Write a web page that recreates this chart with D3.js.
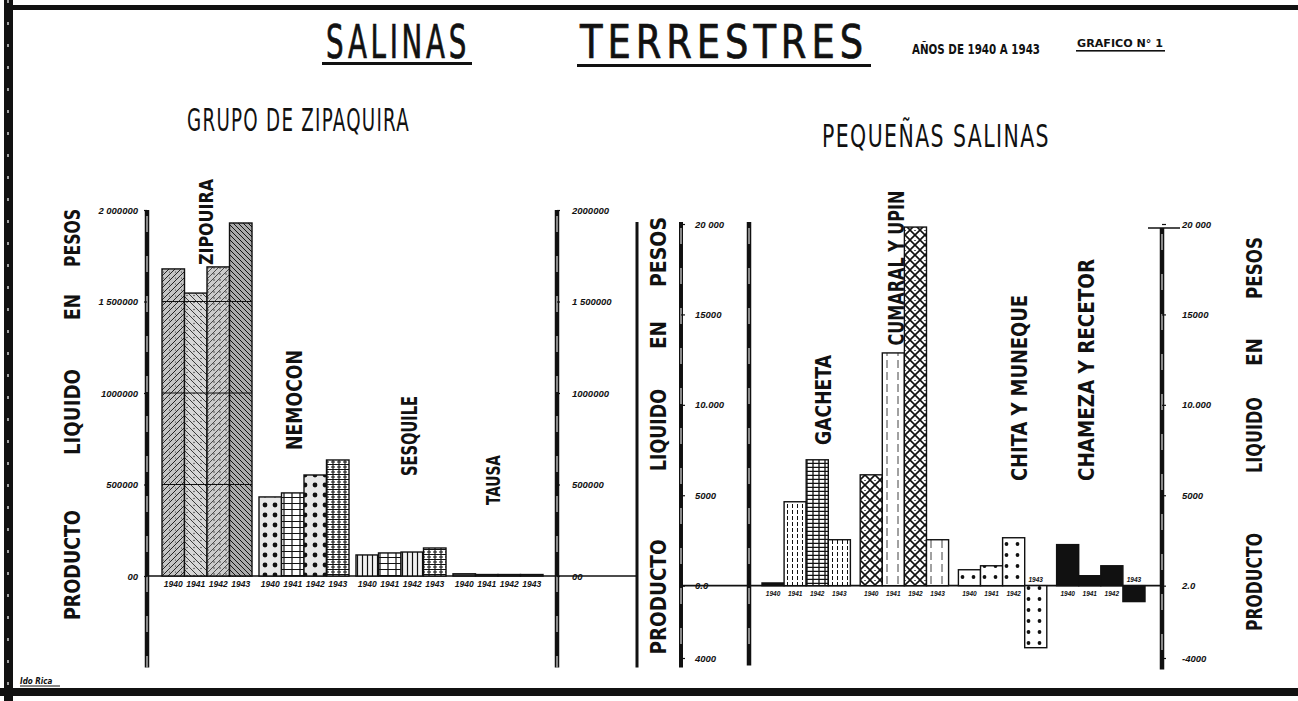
<!DOCTYPE html>
<html>
<head>
<meta charset="utf-8">
<script src="https://d3js.org/d3.v7.min.js"></script>
<style>
body { margin: 0; background: #fff; }
text { font-family: "DejaVu Sans Condensed", "DejaVu Sans", sans-serif; fill: #111; }
.tk text { font-family: "Liberation Sans", sans-serif; font-style: italic; font-weight: bold; font-size: 9.5px; }
.yr { font-family: "Liberation Sans", sans-serif; font-style: italic; font-weight: bold; }
.vlab { font-weight: bold; }
</style>
</head>
<body>
<div id="chart"></div>
<script>
// values (pesos)
const years = ["1940", "1941", "1942", "1943"];

const bigGroups = ["ZIPAQUIRA", "NEMOCON", "SESQUILE", "TAUSA"];
const zipaquira = [1678000, 1546000, 1689000, 1929000];
const nemocon   = [432000, 454000, 552000, 634000];
const sesquile  = [115000, 126000, 131000, 153000];
const tausa     = [12000, 8000, 8000, 8000];
const bigTicks = [0, 500000, 1000000, 1500000, 2000000];
const bigTickLabelsL = ["00", "500000", "1000000", "1 500000", "2 000000"];
const bigTickLabelsR = ["00", "500000", "1000000", "1 500000", "2000000"];

const smallGroups = ["GACHETA", "CUMARAL", "CHITA", "CHAMEZA"];
const gacheta = [150, 4640, 6960, 2540];
const cumaral = [6130, 12870, 19830, 2540];
const chita   = [880, 1100, 2650, -3430];
const chameza = [2270, 550, 1100, -880];
const smallTicks = [-4000, 0, 5000, 10000, 15000, 20000];
const smallTickLabelsL = ["4000", "0.0", "5000", "10.000", "15000", "20 000"];
const smallTickLabelsR = ["-4000", "2.0", "5000", "10.000", "15000", "20 000"];

const W = 1298, H = 701;

const svg = d3.select("#chart").append("svg")
  .attr("width", W).attr("height", H);

const defs = svg.append("defs");

function pat(id, w, h, bg, draw) {
  const p = defs.append("pattern").attr("id", id)
    .attr("patternUnits", "userSpaceOnUse").attr("width", w).attr("height", h);
  p.append("rect").attr("width", w).attr("height", h).attr("fill", bg);
  draw(p);
}
function ln(p, d, sw, dash) {
  p.append("path").attr("d", d).attr("stroke", "#111").attr("stroke-width", sw)
    .attr("fill", "none").attr("stroke-dasharray", dash || null);
}

// textures
pat("zipA", 6, 6, "#c4c4c4", p => { ln(p, "M-1,7 L7,-1 M-1,1 L1,-1 M5,7 L7,5", 0.9); p.append("circle").attr("cx", 1.5).attr("cy", 2).attr("r", 0.6).attr("fill", "#333"); });
pat("zipB", 7, 7, "#d6d6d6", p => { ln(p, "M-1,-1 L8,8", 0.8); p.append("circle").attr("cx", 5).attr("cy", 1.5).attr("r", 0.7).attr("fill", "#333"); });
pat("zipC", 6, 6, "#cbcbcb", p => { ln(p, "M-1,7 L7,-1", 0.7); p.append("circle").attr("cx", 4).attr("cy", 4).attr("r", 0.7).attr("fill", "#222"); });
pat("zipD", 5, 5, "#aaaaaa", p => { ln(p, "M-1,-1 L6,6 M4,-1 L6,1 M-1,4 L1,6", 1); });
pat("dots", 10, 10, "#e8e8e8", p => { p.append("circle").attr("cx", 5).attr("cy", 5).attr("r", 2.4).attr("fill", "#111"); });
pat("brick", 8, 6, "#fff", p => { ln(p, "M0,5.5 H8 M4,0 V5.5", 1.2); });
pat("brick2", 6, 5, "#fff", p => { ln(p, "M0,4.5 H6 M3,0 V4.5 M1,2 H5", 1.1); });
pat("vline", 5, 6, "#f2f2f2", p => { ln(p, "M2.5,0 V6", 1.2); });
pat("tausa", 4, 4, "#555", p => {});
pat("vdash", 5, 6, "#fff", p => { ln(p, "M2.5,0 V4", 1); });
pat("hgrid", 6, 4, "#fff", p => { ln(p, "M0,3.5 H6 M3,0 V4", 1.3); });
pat("cross", 10, 10, "#fff", p => { ln(p, "M0,0 L10,10 M10,0 L0,10", 1.6); p.append("circle").attr("cx", 5).attr("cy", 0).attr("r", 0.9).attr("fill", "#111"); });
pat("plain", 11, 12, "#fff", p => { ln(p, "M7,0 V8", 0.8); });
pat("bigdots", 11, 11, "#fff", p => { p.append("circle").attr("cx", 5.5).attr("cy", 5).attr("r", 1.9).attr("fill", "#111"); });
pat("solid", 4, 4, "#111", p => {});

const fills = {
  ZIPAQUIRA: ["zipA", "zipB", "zipC", "zipD"],
  NEMOCON: ["dots", "brick", "dots", "brick2"],
  SESQUILE: ["vline", "brick", "vline", "brick2"],
  TAUSA: ["tausa", "tausa", "tausa", "tausa"],
  GACHETA: ["solid", "vdash", "hgrid", "vdash"],
  CUMARAL: ["cross", "plain", "cross", "plain"],
  CHITA: ["bigdots", "bigdots", "bigdots", "bigdots"],
  CHAMEZA: ["solid", "solid", "solid", "solid"]
};

// scales
const yBig = d3.scaleLinear().domain([0, 2000000]).range([576, 210]);
const ySmall = d3.scaleLinear().domain([-4000, 20000]).range([658, 224]);

const xBig = d3.scaleBand().domain(bigGroups).range([162, 543]).paddingInner(0.072).paddingOuter(0);
const xBigYear = d3.scaleBand().domain(years).range([0, xBig.bandwidth()]);
const xSmall = d3.scaleBand().domain(smallGroups).range([762, 1145]).paddingInner(0.1).paddingOuter(0);
const xSmallYear = d3.scaleBand().domain(years).range([0, xSmall.bandwidth()]);

const bigData = [];
[zipaquira, nemocon, sesquile, tausa].forEach((arr, gi) => {
  arr.forEach((v, i) => bigData.push({ g: bigGroups[gi], year: years[i], value: v, i: i }));
});
const smallData = [];
[gacheta, cumaral, chita, chameza].forEach((arr, gi) => {
  arr.forEach((v, i) => smallData.push({ g: smallGroups[gi], year: years[i], value: v, i: i }));
});

// frame
svg.append("rect").attr("x", 4).attr("y", 0).attr("width", 9).attr("height", H).attr("fill", "#111");
svg.append("rect").attr("x", 12).attr("y", 5).attr("width", W - 12).attr("height", 5).attr("fill", "#111");
svg.append("rect").attr("x", 0).attr("y", 688).attr("width", W).attr("height", 8).attr("fill", "#111");
svg.append("line").attr("x1", 8).attr("x2", 8).attr("y1", 0).attr("y2", H)
  .attr("stroke", "#fff").attr("stroke-width", 1.2).attr("stroke-dasharray", "3,19");

// titles
function ttl(txt, x, y, size, len, weight, ls) {
  return svg.append("text").attr("x", x).attr("y", y)
    .attr("font-size", size).attr("font-weight", weight || "normal")
    .attr("letter-spacing", ls || 0)
    .attr("textLength", len).attr("lengthAdjust", "spacingAndGlyphs").text(txt);
}
// tall narrow hand lettering: smaller font stretched vertically
function tallTitle(txt, x, y, len) {
  svg.append("text")
    .attr("transform", "translate(" + x + "," + y + ") scale(1,1.38)")
    .attr("font-size", 33).attr("letter-spacing", 4)
    .attr("stroke", "#111").attr("stroke-width", 0.5)
    .attr("textLength", len).attr("lengthAdjust", "spacingAndGlyphs").text(txt);
}
tallTitle("SALINAS", 326, 58, 144);
tallTitle("TERRESTRES", 580, 58, 288);
svg.append("rect").attr("x", 322).attr("y", 62).attr("width", 150).attr("height", 3).attr("fill", "#111");
svg.append("rect").attr("x", 577).attr("y", 64).attr("width", 294).attr("height", 3).attr("fill", "#111");
ttl("AÑOS DE 1940 A 1943", 912, 54, 14, 128, "bold");
ttl("GRAFICO N° 1", 1077, 47, 11, 86, "bold");
svg.append("rect").attr("x", 1076).attr("y", 50).attr("width", 89).attr("height", 1.6).attr("fill", "#111");
ttl("GRUPO  DE  ZIPAQUIRA", 187, 131, 32, 223, "normal", 2);
ttl("PEQUEÑAS  SALINAS", 822, 147, 32, 228, "normal", 2);

// vertical "PRODUCTO LIQUIDO EN PESOS"
function vword(txt, x, y, len, size) {
  svg.append("text").attr("class", "vlab")
    .attr("transform", "translate(" + x + "," + y + ") rotate(-90)")
    .attr("text-anchor", "middle").attr("dy", "0.36em")
    .attr("font-size", size || 22)
    .attr("textLength", len).attr("lengthAdjust", "spacingAndGlyphs")
    .text(txt);
}
[[72, [565, 110], [412, 86], [307, 26], [238, 58]],
 [658, [597, 115], [430, 82], [335, 28], [252, 70]],
 [1254, [582, 98], [435, 76], [352, 28], [268, 62]]].forEach(c => {
  vword("PRODUCTO", c[0], c[1][0], c[1][1]);
  vword("LIQUIDO", c[0], c[2][0], c[2][1]);
  vword("EN", c[0], c[3][0], c[3][1]);
  vword("PESOS", c[0], c[4][0], c[4][1]);
});

// thick scanned axis lines
function vaxis(x, y1, y2, w) {
  svg.append("line").attr("x1", x).attr("x2", x).attr("y1", y1).attr("y2", y2)
    .attr("stroke", "#111").attr("stroke-width", w);
  if (w > 3) {
    svg.append("line").attr("x1", x).attr("x2", x).attr("y1", y1 + 6).attr("y2", y2)
      .attr("stroke", "#fff").attr("stroke-width", 1).attr("stroke-dasharray", "16,24");
  }
}
vaxis(147, yBig(2000000), yBig(-500000), 4.5);
vaxis(557, yBig(2000000), yBig(-500000), 4.5);
vaxis(637, ySmall(20000) - 2, yBig(-500000), 3);
vaxis(681, ySmall(20000) - 2, yBig(-500000), 4);
vaxis(749, ySmall(20000) - 2, yBig(-500000) - 2, 4.5);
vaxis(1162, ySmall(20000) + 4, yBig(-500000) + 2, 4.5);

// baselines
svg.append("line").attr("x1", 147).attr("x2", 637).attr("y1", yBig(0)).attr("y2", yBig(0))
  .attr("stroke", "#111").attr("stroke-width", 1.6);
svg.append("line").attr("x1", 681).attr("x2", 1162).attr("y1", ySmall(0)).attr("y2", ySmall(0))
  .attr("stroke", "#111").attr("stroke-width", 1.6);

// axes (labels only, lines drawn above)
function axis(gen, x) {
  const g = svg.append("g").attr("class", "tk").attr("transform", "translate(" + x + ",0)").call(gen);
  g.select(".domain").remove();
  g.selectAll("line").attr("stroke", "#111").attr("stroke-width", 1.2);
  return g;
}
axis(d3.axisLeft(yBig).tickValues(bigTicks).tickFormat((d, i) => bigTickLabelsL[i]).tickSize(3).tickPadding(6), 147);
axis(d3.axisRight(yBig).tickValues(bigTicks).tickFormat((d, i) => bigTickLabelsR[i]).tickSize(3).tickPadding(12), 557);
axis(d3.axisRight(ySmall).tickValues(smallTicks).tickFormat((d, i) => smallTickLabelsL[i]).tickSize(4).tickPadding(10), 681);
axis(d3.axisRight(ySmall).tickValues(smallTicks).tickFormat((d, i) => smallTickLabelsR[i]).tickSize(4).tickPadding(16), 1162);
svg.append("line").attr("x1", 1148).attr("x2", 1180).attr("y1", ySmall(20000) + 4).attr("y2", ySmall(20000) + 4)
  .attr("stroke", "#111").attr("stroke-width", 1.5);

// bars
function drawBars(data, xG, xY, y, cls) {
  svg.selectAll("." + cls).data(data).enter().append("rect")
    .attr("class", cls)
    .attr("x", d => xG(d.g) + xY(d.year))
    .attr("y", d => y(Math.max(0, d.value)))
    .attr("width", xY.bandwidth())
    .attr("height", d => Math.max(1.5, Math.abs(y(d.value) - y(0))))
    .attr("fill", d => "url(#" + fills[d.g][d.i] + ")")
    .attr("stroke", "#111").attr("stroke-width", 1.4);
}
drawBars(bigData, xBig, xBigYear, yBig, "bbar");
drawBars(smallData, xSmall, xSmallYear, ySmall, "sbar");

// grid lines crossing the Zipaquira bars
bigData.filter(d => d.g === "ZIPAQUIRA").forEach(d => {
  bigTicks.filter(t => t > 0 && t < d.value).forEach(t => {
    svg.append("line")
      .attr("x1", xBig(d.g) + xBigYear(d.year)).attr("x2", xBig(d.g) + xBigYear(d.year) + xBigYear.bandwidth())
      .attr("y1", yBig(t)).attr("y2", yBig(t))
      .attr("stroke", "#111").attr("stroke-width", 1);
  });
});

// year labels
svg.selectAll(".ybig").data(bigData).enter().append("text")
  .attr("class", "yr").attr("font-size", 8.5).attr("text-anchor", "middle")
  .attr("x", d => xBig(d.g) + xBigYear(d.year) + xBigYear.bandwidth() / 2)
  .attr("y", yBig(0) + 11)
  .text(d => d.year);
svg.selectAll(".ysmall").data(smallData).enter().append("text")
  .attr("class", "yr").attr("font-size", 6.5).attr("text-anchor", "middle")
  .attr("x", d => xSmall(d.g) + xSmallYear(d.year) + xSmallYear.bandwidth() / 2)
  .attr("y", d => d.value < 0 ? ySmall(0) - 4 : ySmall(0) + 10)
  .text(d => d.year);

// group names (vertical)
const groupNames = [
  ["ZIPOUIRA", 206, 222, 86, 20],
  ["NEMOCON", 294, 400, 100, 22],
  ["SESQUILE", 409, 436, 80, 21],
  ["TAUSA", 493, 480, 50, 19],
  ["GACHETA", 823, 400, 90, 21],
  ["CUMARAL  Y  UPIN", 896, 268, 155, 22],
  ["CHITA  Y  MUNEQUE", 1019, 388, 186, 21],
  ["CHAMEZA  Y  RECETOR", 1086, 370, 222, 21]
];
groupNames.forEach(g => vword(g[0], g[1], g[2], g[3], g[4]));

// corner signature
svg.append("text").attr("x", 20).attr("y", 684).attr("font-size", 8)
  .attr("font-style", "italic").attr("font-weight", "bold").text("Ido Rica");
svg.append("line").attr("x1", 20).attr("x2", 60).attr("y1", 686).attr("y2", 686).attr("stroke", "#111");
</script>
</body>
</html>
